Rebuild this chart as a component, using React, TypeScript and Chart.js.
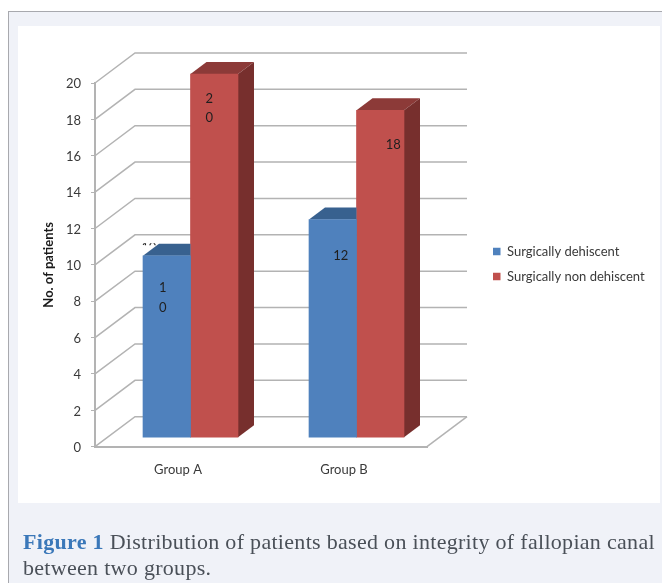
import React, { useEffect, useRef } from "react";
import { Chart, registerables } from "chart.js";

Chart.register(...registerables);

const categories = ["Group A", "Group B"];
const dehiscent = [10, 12];
const nonDehiscent = [20, 18];
const seriesNames = ["Surgically dehiscent", "Surgically non dehiscent"];
const yTicks = [0, 2, 4, 6, 8, 10, 12, 14, 16, 18, 20];

// value label placement per dataset / per category (offset from bar centre and top)
const labelPlacement = [
  [{ dx: -4, dy: 31.5, wrap: true, gap: 20 }, { dx: 8, dy: 36, wrap: false, gap: 0 }],
  [{ dx: -5, dy: 25, wrap: true, gap: 19 }, { dx: 13, dy: 34, wrap: false, gap: 0 }],
];

const FONT = "Lato, Carlito, sans-serif";
const faces = [
  { top: "#38618f", side: "#2f5680" },
  { top: "#8c3a38", side: "#772f2d" },
];

const BAR_SHIFT_X = 12.5;
const BAR_SHIFT_Y = -9;
const BAR_DX = 16;
const BAR_DY = -12;
const WALL_DX = 40;
const WALL_DY = -30;

const plugin3d = {
  id: "plugin3d",
  afterLayout(chart: any) {
    const lg = chart.legend;
    lg.left = 481;
    lg.right = 662;
    lg.top = 233;
    lg.bottom = 302;
  },
  beforeDatasetsDraw(chart: any) {
    const { ctx, scales } = chart;
    const y = scales.y;
    const left = chart.chartArea.left;
    const right = chart.chartArea.right;
    ctx.save();
    ctx.strokeStyle = "#b3b3b3";
    ctx.lineWidth = 1.5;
    yTicks.forEach((t) => {
      const py = y.getPixelForValue(t);
      ctx.beginPath();
      ctx.moveTo(left, py);
      ctx.lineTo(left + WALL_DX, py + WALL_DY);
      ctx.lineTo(right + WALL_DX, py + WALL_DY);
      ctx.stroke();
    });
    const base = y.getPixelForValue(0);
    ctx.beginPath();
    ctx.moveTo(right, base);
    ctx.lineTo(right + WALL_DX, base + WALL_DY);
    ctx.stroke();
    ctx.restore();
  },
  beforeDatasetDraw(chart: any, args: any) {
    const { ctx } = chart;
    ctx.save();
    ctx.translate(BAR_SHIFT_X, BAR_SHIFT_Y);
    const face = faces[args.index];
    // the neighbouring bar stands in front of this one's depth faces
    const hiddenBehindNext = args.index < chart.data.datasets.length - 1;
    args.meta.data.forEach((bar: any) => {
      const l = bar.x - bar.width / 2;
      const r = bar.x + bar.width / 2;
      const t = bar.y;
      const b = bar.base;
      ctx.save();
      if (hiddenBehindNext) {
        ctx.beginPath();
        ctx.rect(l, t + BAR_DY - 2, r - l, b - t + 4 - BAR_DY);
        ctx.clip();
      }
      ctx.fillStyle = face.top;
      ctx.beginPath();
      ctx.moveTo(l, t);
      ctx.lineTo(l + BAR_DX, t + BAR_DY);
      ctx.lineTo(r + BAR_DX, t + BAR_DY);
      ctx.lineTo(r, t);
      ctx.closePath();
      ctx.fill();
      ctx.fillStyle = face.side;
      ctx.beginPath();
      ctx.moveTo(r, t);
      ctx.lineTo(r + BAR_DX, t + BAR_DY);
      ctx.lineTo(r + BAR_DX, b + BAR_DY);
      ctx.lineTo(r, b);
      ctx.closePath();
      ctx.fill();
      ctx.restore();
    });
  },
  afterDatasetDraw(chart: any) {
    chart.ctx.restore();
  },
  afterDatasetsDraw(chart: any) {
    const { ctx } = chart;
    ctx.save();
    ctx.translate(BAR_SHIFT_X, BAR_SHIFT_Y);
    ctx.fillStyle = "#1f1f1f";
    ctx.font = "13px " + FONT;
    ctx.textAlign = "center";
    ctx.textBaseline = "middle";
    chart.data.datasets.forEach((ds: any, di: number) => {
      const meta = chart.getDatasetMeta(di);
      meta.data.forEach((bar: any, i: number) => {
        const p = labelPlacement[di][i];
        const text = String(ds.data[i]);
        const lines = p.wrap ? text.split("") : [text];
        lines.forEach((ln: string, k: number) => {
          ctx.fillText(ln, bar.x + p.dx, bar.y + p.dy + k * p.gap);
        });
      });
    });
    // the sliver of a cropped "10" that peeks out above the first blue bar
    const first = chart.getDatasetMeta(0).data[0];
    const sliverY = first.y - 11;
    ctx.beginPath();
    ctx.rect(first.x - 24, sliverY - 1.5, 16, 2);
    ctx.clip();
    ctx.fillText(String(dehiscent[0]), first.x - 18, sliverY + 3.2);
    ctx.restore();
  },
};

export default function App() {
  const ref = useRef<HTMLCanvasElement>(null);
  useEffect(() => {
    const chart = new Chart(ref.current as HTMLCanvasElement, {
      type: "bar",
      plugins: [plugin3d],
      data: {
        labels: categories,
        datasets: [
          { label: seriesNames[0], data: dehiscent, backgroundColor: "#4f81bd", barThickness: 47.5, clip: false },
          { label: seriesNames[1], data: nonDehiscent, backgroundColor: "#c0504d", barThickness: 47.5, clip: false },
        ],
      } as any,
      options: {
        animation: false,
        responsive: false,
        events: [],
        layout: { padding: { top: 83, right: 0, left: 0, bottom: 0 } },
        plugins: {
          title: { display: false },
          tooltip: { enabled: false },
          legend: {
            display: true,
            position: "right",
            align: "start",
            labels: {
              boxWidth: 7.5,
              boxHeight: 7.5,
              padding: 12,
              color: "#3a3a3a",
              font: { family: FONT, size: 13 },
            },
          },
        },
        scales: {
          x: {
            grid: { display: false },
            border: { display: true, color: "#b3b3b3", width: 2 },
            ticks: { color: "#3a3a3a", padding: 7, font: { family: FONT, size: 13 } },
            afterFit: (s: any) => {
              s.height = 583 - 446.7;
            },
          },
          y: {
            min: 0,
            max: 20,
            grid: { drawOnChartArea: false, drawTicks: true, tickLength: 4, color: "#b3b3b3" },
            border: { display: true, color: "#b3b3b3", width: 2 },
            ticks: { stepSize: 2, color: "#3a3a3a", padding: 10, labelOffset: 1, font: { family: FONT, size: 13 } },
            title: {
              display: true,
              text: "No. of patients",
              color: "#1a1a1a",
              padding: { top: 41, bottom: 0 },
              font: { family: FONT, size: 13, weight: "bold" },
            },
            afterFit: (s: any) => {
              s.width = 95;
            },
          },
        },
      } as any,
    } as any);
    // legend keeps the plot's right edge fixed
    const lg: any = chart.legend;
    const fit = lg.fit;
    lg.fit = function () {
      fit.call(this);
      this.width = 662 - 427;
    };
    chart.update();
    return () => chart.destroy();
  }, []);

  return (
    <div style={{ position: "absolute", left: 0, top: 0, width: 662, height: 583, background: "#fff", overflow: "hidden" }}>
      <div style={{ position: "absolute", left: 8, top: 11, width: 654, height: 572, background: "#f0f2f8", borderLeft: "1px solid #a8a9ae", borderTop: "1px solid #a8a9ae", boxSizing: "border-box" }} />
      <div style={{ position: "absolute", left: 18, top: 26, width: 642, height: 477, background: "#fff" }} />
      <canvas ref={ref} width={662} height={583} style={{ position: "absolute", left: 0, top: 0, width: 662, height: 583 }} />
      <div style={{ position: "absolute", left: 23, top: 529, width: 637, fontFamily: "'Liberation Serif', serif", fontSize: 22, letterSpacing: "0.3px", lineHeight: "26px", color: "#4a5058" }}>
        <span style={{ color: "#3b78b9", fontWeight: "bold" }}>Figure 1</span> Distribution of patients based on integrity of fallopian canal between two groups.
      </div>
    </div>
  );
}
